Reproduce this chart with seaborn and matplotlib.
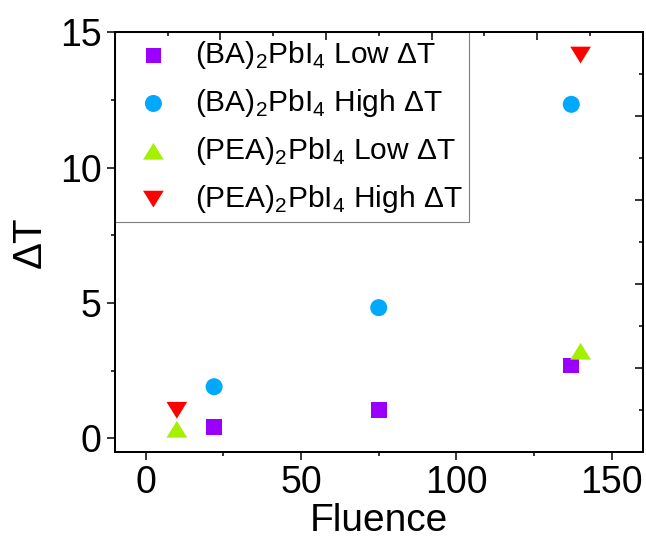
import matplotlib
matplotlib.use('Agg')
import matplotlib.pyplot as plt
import seaborn as sns
from matplotlib.ticker import MultipleLocator

# valores
fluence_ba = [22, 75, 137]
ba_low = [0.41, 1.05, 2.69]
ba_high = [1.91, 4.83, 12.34]

fluence_pea = [10, 140]
pea_low = [0.34, 3.22]
pea_high = [1.04, 14.16]

etiquetas = [r'(BA)$_\mathregular{2}$PbI$_\mathregular{4}$ Low ΔT',
             r'(BA)$_\mathregular{2}$PbI$_\mathregular{4}$ High ΔT',
             r'(PEA)$_\mathregular{2}$PbI$_\mathregular{4}$ Low ΔT',
             r'(PEA)$_\mathregular{2}$PbI$_\mathregular{4}$ High ΔT']

sns.set_style('ticks')
plt.rcParams['font.family'] = ['Liberation Sans', 'DejaVu Sans']
plt.rcParams['mathtext.fontset'] = 'custom'
plt.rcParams['mathtext.rm'] = 'Liberation Sans'
for k in ['text.color', 'axes.labelcolor', 'xtick.color', 'ytick.color', 'axes.edgecolor']:
    plt.rcParams[k] = 'black'

# triangulos algo aplastados como en Origin
tri_up = [(-1, -0.81), (1, -0.81), (0, 0.81)]
tri_down = [(-1, 0.81), (1, 0.81), (0, -0.81)]

fig = plt.figure(figsize=(6.46, 5.42), dpi=100)
ax = fig.add_axes([0.1776, 0.1661, 0.8173, 0.7743])

sns.scatterplot(x=fluence_ba, y=ba_low, marker='s', s=128, color='#9B00FF',
                linewidth=0, edgecolor='none', label=etiquetas[0], ax=ax)
sns.scatterplot(x=fluence_ba, y=ba_high, marker='o', s=150, color='#00A8FF',
                linewidth=0, edgecolor='none', label=etiquetas[1], ax=ax)
sns.scatterplot(x=fluence_pea, y=pea_low, marker=tri_up, s=222, color='#A5F000',
                linewidth=0, edgecolor='none', label=etiquetas[2], ax=ax)
sns.scatterplot(x=fluence_pea, y=pea_high, marker=tri_down, s=222, color='#FF0000',
                linewidth=0, edgecolor='none', label=etiquetas[3], ax=ax)

ax.set_xlim(-10, 160)
ax.set_ylim(-0.5, 15)
ax.xaxis.set_major_locator(MultipleLocator(50))
ax.xaxis.set_minor_locator(MultipleLocator(25))
ax.yaxis.set_major_locator(MultipleLocator(5))
ax.yaxis.set_minor_locator(MultipleLocator(2.5))
ax.tick_params(which='both', direction='out', width=1.1, labelsize=27, pad=4,
               top=False, right=False)
ax.tick_params(which='major', length=5.5)
ax.tick_params(which='minor', length=3)
ax.set_xlabel('Fluence', fontsize=28, labelpad=1)
ax.set_ylabel('ΔT', fontsize=29, labelpad=8)

# ejes de arriba y derecha con su propia escala
axt = ax.twiny()
axt.set_xlim(0, 5)
axt.xaxis.set_major_locator(MultipleLocator(1))
axt.xaxis.set_minor_locator(MultipleLocator(0.5))
axt.tick_params(axis='x', which='both', direction='in', width=1.1,
                labeltop=False, top=True)
axt.tick_params(axis='x', which='major', length=5.5)
axt.tick_params(axis='x', which='minor', length=3)

axr = ax.twinx()
axr.set_ylim(0, 5)
axr.yaxis.set_major_locator(MultipleLocator(1))
axr.yaxis.set_minor_locator(MultipleLocator(0.5))
axr.tick_params(axis='y', which='both', direction='in', width=1.1,
                labelright=False, right=True)
axr.tick_params(axis='y', which='major', length=5.5)
axr.tick_params(axis='y', which='minor', length=3)

for a in (ax, axt, axr):
    for sp in a.spines.values():
        sp.set_linewidth(1.3)
        sp.set_color('black')

leg = ax.legend(loc='upper left', bbox_to_anchor=(0, 1), borderaxespad=0,
                fontsize=21.5, frameon=True, fancybox=False, framealpha=1,
                borderpad=0.24, handlelength=2.11, handletextpad=0.33,
                labelspacing=0.53, scatterpoints=1)
leg.get_frame().set_edgecolor('#7f7f7f')
leg.get_frame().set_linewidth(0.8)

fig.savefig('out.png', dpi=100)
